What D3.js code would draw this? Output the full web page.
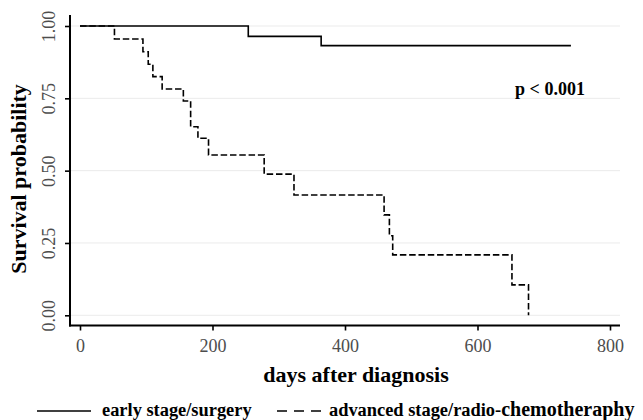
<!DOCTYPE html>
<html><head><meta charset="utf-8">
<script src="https://cdn.jsdelivr.net/npm/d3@7"></script>
<style>html,body{margin:0;padding:0;background:#fff;}svg{display:block;}</style>
</head><body>
<script>
const earlyDays = [0, 254, 364, 741];
const earlySurv = [1, 0.964, 0.932, 0.932];
const advDays = [0, 52, 95, 103, 110, 124, 156, 167, 178, 194, 278, 323, 459, 467, 472, 652, 677];
const advSurv = [1, 0.955, 0.911, 0.868, 0.825, 0.782, 0.741, 0.652, 0.612, 0.554, 0.488, 0.416, 0.347, 0.275, 0.209, 0.105, 0];
const xTicks = [0, 200, 400, 600, 800];
const yTicks = [0, 0.25, 0.5, 0.75, 1];
const yTickLabels = ["0.00", "0.25", "0.50", "0.75", "1.00"];
const seriesNames = ["early stage/surgery", "advanced stage/radio-chemotheraphy"];
const pLabel = "p < 0.001";

(function () {
const W = 643, H = 420;
const svg = d3.select("body").append("svg").attr("width", W).attr("height", H);
const font = "'Liberation Serif','Times New Roman',serif";

const x = d3.scaleLinear().domain([0, 800]).range([80, 610]);
const y = d3.scaleLinear().domain([0, 1]).range([315.3, 26]);
const pLeft = 70, pRight = 620, pTop = 15, pBottom = 325.5;

svg.append("g").selectAll("line").data(yTicks).join("line")
  .attr("x1", pLeft).attr("x2", pRight)
  .attr("y1", d => y(d)).attr("y2", d => y(d))
  .attr("stroke", "#ebebeb").attr("stroke-width", 1);

const line = d3.line().x(d => x(d[0])).y(d => y(d[1])).curve(d3.curveStepAfter);
svg.append("path").datum(earlyDays.map((d, i) => [d, earlySurv[i]]))
  .attr("d", line).attr("fill", "none").attr("stroke", "#000").attr("stroke-width", 1.6);
svg.append("path").datum(advDays.map((d, i) => [d, advSurv[i]]))
  .attr("d", line).attr("fill", "none").attr("stroke", "#000").attr("stroke-width", 1.6)
  .attr("stroke-dasharray", "6.5,2.8");

const xAxis = svg.append("g").attr("transform", `translate(0,${pBottom})`)
  .call(d3.axisBottom(x).tickValues(xTicks).tickSize(5).tickPadding(9).tickFormat(d3.format("d")));
const yAxis = svg.append("g").attr("transform", `translate(${pLeft},0)`)
  .call(d3.axisLeft(y).tickValues(yTicks).tickSize(5).tickPadding(5).tickFormat((d, i) => yTickLabels[i]));
[xAxis, yAxis].forEach(g => {
  g.select(".domain").remove();
  g.selectAll(".tick line").attr("stroke", "#000").attr("stroke-width", 1.6);
  g.selectAll("text").attr("font-family", font).attr("font-size", 18).attr("fill", "#4d4d4d");
});
yAxis.selectAll(".tick text")
  .attr("text-anchor", "middle").attr("x", 0).attr("y", 0)
  .attr("dy", "0.35em").attr("transform", "translate(-21.5,0) rotate(-90)");

svg.append("line").attr("x1", pLeft).attr("x2", pLeft).attr("y1", pTop).attr("y2", pBottom + 1)
  .attr("stroke", "#000").attr("stroke-width", 2);
svg.append("line").attr("x1", pLeft - 1).attr("x2", pRight).attr("y1", pBottom).attr("y2", pBottom)
  .attr("stroke", "#000").attr("stroke-width", 2);

svg.append("text").attr("x", 356).attr("y", 382).attr("text-anchor", "middle")
  .attr("font-family", font).attr("font-weight", "bold").attr("font-size", 22).attr("fill", "#000")
  .text("days after diagnosis");
svg.append("text").attr("transform", "translate(26,179) rotate(-90)").attr("text-anchor", "middle")
  .attr("font-family", font).attr("font-weight", "bold").attr("font-size", 22).attr("fill", "#000")
  .text("Survival probability");
svg.append("text").attr("x", 550).attr("y", 94.5).attr("text-anchor", "middle")
  .attr("font-family", font).attr("font-weight", "bold").attr("font-size", 18).attr("fill", "#000")
  .text(pLabel);

const ly = 411;
svg.append("line").attr("x1", 37).attr("x2", 91).attr("y1", ly).attr("y2", ly)
  .attr("stroke", "#000").attr("stroke-width", 1.6);
svg.append("text").attr("x", 102).attr("y", ly + 4.5).attr("font-family", font).attr("font-weight", "bold")
  .attr("font-size", 18.4).attr("fill", "#000").text(seriesNames[0]);
svg.append("line").attr("x1", 277).attr("x2", 324).attr("y1", ly).attr("y2", ly)
  .attr("stroke", "#000").attr("stroke-width", 1.6).attr("stroke-dasharray", "10,7");
const parts = seriesNames[1].split("chemo");
const t2 = svg.append("text").attr("x", 329).attr("y", ly + 4.5).attr("font-family", font)
  .attr("font-weight", "bold").attr("fill", "#000");
t2.append("tspan").attr("font-size", 18.4).text(parts[0]);
t2.append("tspan").attr("font-size", 20).text("chemo" + parts[1]);
})();
</script>
</body></html>
